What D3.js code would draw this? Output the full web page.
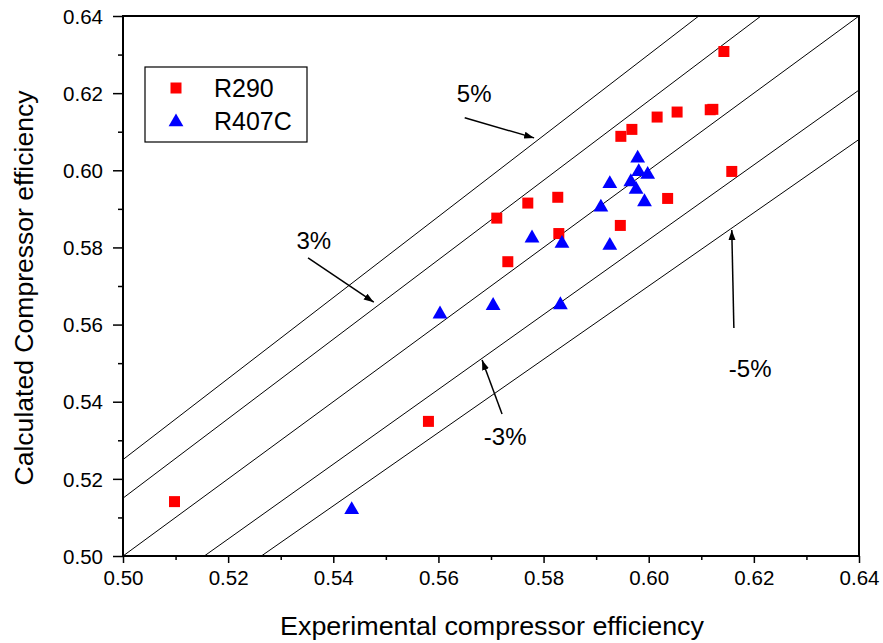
<!DOCTYPE html>
<html>
<head>
<meta charset="utf-8">
<script src="https://cdn.jsdelivr.net/npm/d3@7"></script>
<style>
  html, body { margin: 0; padding: 0; background: #fff; }
  svg { display: block; font-family: "Liberation Sans", Arial, sans-serif; }
</style>
</head>
<body>
<svg id="chart" width="883" height="643"></svg>
<script>
// ---------- data ----------
const r290X = [0.5098, 0.5581, 0.5711, 0.5732, 0.5770, 0.5827, 0.5829, 0.5946, 0.5947, 0.5968, 0.6036, 0.6016, 0.6054, 0.6117, 0.6122, 0.6143, 0.6158];
const r290Y = [0.5141, 0.5349, 0.5876, 0.5763, 0.5915, 0.5930, 0.5836, 0.5857, 0.6088, 0.6106, 0.5927, 0.6138, 0.6151, 0.6157, 0.6158, 0.6308, 0.5997];
const r407cX = [0.5979, 0.5981, 0.5998, 0.5926, 0.5966, 0.5976, 0.5909, 0.5992, 0.5778, 0.5835, 0.5926, 0.5704, 0.5832, 0.5603, 0.5435];
const r407cY = [0.6031, 0.5996, 0.5989, 0.5965, 0.5970, 0.5950, 0.5904, 0.5918, 0.5824, 0.5810, 0.5805, 0.5649, 0.5651, 0.5627, 0.5120];
const seriesNames = ["R290", "R407C"];
const refFactors = [1.05, 1.03, 1.00, 0.97, 0.95];
const xTicks = [0.50, 0.52, 0.54, 0.56, 0.58, 0.60, 0.62, 0.64];
const yTicks = [0.50, 0.52, 0.54, 0.56, 0.58, 0.60, 0.62, 0.64];
const minorTicks = [0.51, 0.53, 0.55, 0.57, 0.59, 0.61, 0.63];
const annoLabels = ["5%", "3%", "-3%", "-5%"];
const annoText = [[0.5668, 0.6177], [0.5363, 0.5796], [0.5727, 0.5288], [0.6193, 0.5464]];
const annoFrom = [[0.5650, 0.6136], [0.5352, 0.5773], [0.5721, 0.5368], [0.6162, 0.5591]];
const annoTo   = [[0.5782, 0.6084], [0.5477, 0.5658], [0.5683, 0.5508], [0.6158, 0.5845]];

// ---------- layout ----------
const L = 123, R = 859, T = 16, B = 556;
const svg = d3.select("#chart");
const x = d3.scaleLinear().domain([0.5, 0.64]).range([L, R]);
const y = d3.scaleLinear().domain([0.5, 0.64]).range([B, T]);

svg.append("defs").append("clipPath").attr("id", "clip")
  .append("rect").attr("x", L).attr("y", T).attr("width", R - L).attr("height", B - T);
svg.select("defs").append("marker")
  .attr("id", "arrow").attr("viewBox", "0 0 10 10").attr("refX", 10).attr("refY", 5)
  .attr("markerWidth", 10).attr("markerHeight", 10).attr("markerUnits", "userSpaceOnUse")
  .attr("orient", "auto")
  .append("path").attr("d", "M0,1.5 L10,5 L0,8.5 Z").attr("fill", "#000");

// reference lines
const refG = svg.append("g").attr("clip-path", "url(#clip)");
refFactors.forEach(f => {
  refG.append("line")
    .attr("x1", x(0.5)).attr("y1", y(0.5 * f))
    .attr("x2", x(0.64)).attr("y2", y(0.64 * f))
    .attr("stroke", "#000").attr("stroke-width", 1);
});

// axes
const fmt = d3.format(".2f");
const xAxis = svg.append("g").attr("transform", `translate(0,${B})`)
  .call(d3.axisBottom(x).tickValues(xTicks).tickFormat(fmt).tickSize(7).tickSizeOuter(0).tickPadding(8));
const xMinor = svg.append("g").attr("transform", `translate(0,${B})`)
  .call(d3.axisBottom(x).tickValues(minorTicks).tickFormat("").tickSize(4).tickSizeOuter(0));
const yAxis = svg.append("g").attr("transform", `translate(${L},0)`)
  .call(d3.axisLeft(y).tickValues(yTicks).tickFormat(fmt).tickSize(10).tickSizeOuter(0).tickPadding(10));
const yMinor = svg.append("g").attr("transform", `translate(${L},0)`)
  .call(d3.axisLeft(y).tickValues(minorTicks).tickFormat("").tickSize(5).tickSizeOuter(0));
[xAxis, xMinor, yAxis, yMinor].forEach(g => {
  g.select(".domain").remove();
  g.selectAll("line").attr("stroke", "#000").attr("stroke-width", 1.5);
});
[xAxis, yAxis].forEach(g => {
  g.selectAll("text").attr("font-size", 20).attr("fill", "#000")
    .attr("font-family", "'Liberation Sans', Arial, sans-serif")
    .attr("textLength", 40).attr("lengthAdjust", "spacingAndGlyphs");
});
yAxis.selectAll("text").attr("dy", "0.36em");

// frame
svg.append("rect").attr("x", L).attr("y", T).attr("width", R - L).attr("height", B - T)
  .attr("fill", "none").attr("stroke", "#000").attr("stroke-width", 2);

// axis titles
svg.append("text").attr("x", 492).attr("y", 635)
  .attr("text-anchor", "middle").attr("font-size", 25).attr("fill", "#000")
  .attr("textLength", 424).attr("lengthAdjust", "spacingAndGlyphs")
  .text("Experimental compressor efficiency");
svg.append("text").attr("transform", `translate(33,288) rotate(-90)`)
  .attr("text-anchor", "middle").attr("font-size", 25).attr("fill", "#000")
  .attr("textLength", 395).attr("lengthAdjust", "spacingAndGlyphs")
  .text("Calculated Compressor efficiency");

// points
const sq = d3.symbol().type(d3.symbolSquare).size(121);
const tri = d3.symbol().type(d3.symbolTriangle).size(95);
svg.append("g").selectAll("path").data(d3.range(r290X.length)).join("path")
  .attr("d", sq).attr("transform", i => `translate(${x(r290X[i])},${y(r290Y[i])})`)
  .attr("fill", "#ff0000");
svg.append("g").selectAll("path").data(d3.range(r407cX.length)).join("path")
  .attr("d", tri).attr("transform", i => `translate(${x(r407cX[i])},${y(r407cY[i])})`)
  .attr("fill", "#0000ff");

// annotations
annoLabels.forEach((lab, i) => {
  svg.append("line")
    .attr("x1", x(annoFrom[i][0])).attr("y1", y(annoFrom[i][1]))
    .attr("x2", x(annoTo[i][0])).attr("y2", y(annoTo[i][1]))
    .attr("stroke", "#000").attr("stroke-width", 1.5).attr("marker-end", "url(#arrow)");
  svg.append("text").attr("x", x(annoText[i][0])).attr("y", y(annoText[i][1]))
    .attr("text-anchor", "middle").attr("font-size", 24).attr("fill", "#000").text(lab);
});

// legend
const lg = svg.append("g");
lg.append("rect").attr("x", 145).attr("y", 67).attr("width", 162).attr("height", 75)
  .attr("fill", "#fff").attr("stroke", "#000").attr("stroke-width", 1.2);
lg.append("path").attr("d", sq).attr("transform", "translate(176,88)").attr("fill", "#ff0000");
lg.append("path").attr("d", tri).attr("transform", "translate(176,122)").attr("fill", "#0000ff");
lg.append("text").attr("x", 214).attr("y", 97).attr("font-size", 25).attr("fill", "#000").text(seriesNames[0]);
lg.append("text").attr("x", 214).attr("y", 130).attr("font-size", 25).attr("fill", "#000").text(seriesNames[1]);
</script>
</body>
</html>
